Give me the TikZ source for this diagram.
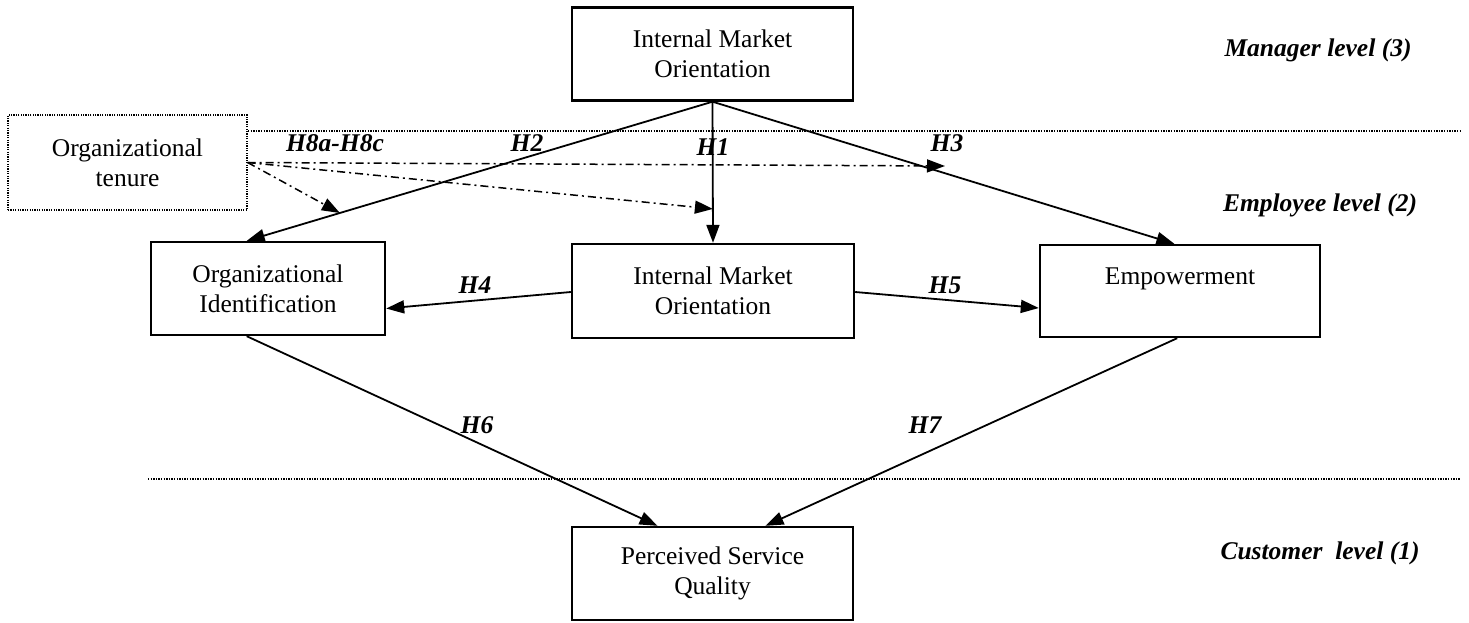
\documentclass[tikz,border=0pt]{standalone}
\usepackage{fontspec}
\setmainfont{Liberation Serif}
\usetikzlibrary{arrows.meta,calc}
\begin{document}
\begin{tikzpicture}[x=1pt,y=-1pt,
  box/.style={draw,line width=2.4pt,rectangle,align=center,inner sep=0pt,
    font=\fontsize{25.5}{30}\selectfont},
  tenbox/.style={draw,line width=1.2pt,dash pattern=on 1.2pt off 1.2pt,rectangle,align=center,inner sep=0pt,
    font=\fontsize{25.5}{30}\selectfont},
  hyp/.style={font=\fontsize{25.5}{30}\selectfont\bfseries\itshape,inner sep=0pt},
  conn/.style={line width=1.8pt,-{Triangle[length=18pt,width=13pt]}},
  modconn/.style={line width=1.5pt,dash pattern=on 8pt off 4pt on 2pt off 4pt,-{Triangle[length=18pt,width=13pt]}},
  sep/.style={line width=1.3pt,dash pattern=on 1.3pt off 1.3pt}
]
\useasboundingbox (0,0) rectangle (1469,622);

% nodes
\node[box,minimum width=281pt,minimum height=93pt] (top) at (712.5,54) {Internal Market\\Orientation};
\node[tenbox,minimum width=239pt,minimum height=95pt] (ten) at (127.5,162.5) {Organizational\\tenure};
\node[box,minimum width=234pt,minimum height=93pt] (oid) at (268,288.5) {Organizational\\Identification};
\node[box,minimum width=282pt,minimum height=94pt] (imo) at (713,291) {Internal Market\\Orientation};
\node[box,minimum width=280pt,minimum height=92pt] (emp) at (1180,291) {Empowerment\\\mbox{}};
\node[box,minimum width=281pt,minimum height=93pt] (psq) at (712.5,573.5) {Perceived Service\\Quality};

% level labels
\node[hyp] (lv3) at (1318,50) {Manager level (3)};
\node[hyp] (lv2) at (1320,205) {Employee level (2)};
\node[hyp] (lv1) at (1320,553) {Customer\ \ level (1)};

% level separators
\coordinate (s1a) at (248,131);
\coordinate (s1b) at (1460,131);
\coordinate (s2a) at (148,479);
\coordinate (s2b) at (1460,479);
\draw[sep] (s1a) -- (s1b);
\draw[sep] (s2a) -- (s2b);

% end points on boxes
\coordinate (oidN) at ($(oid.north west)!0.41!(oid.north east)$);
\coordinate (empN) at ($(emp.north west)!0.48!(emp.north east)$);
\coordinate (oidS) at ($(oid.south west)!0.41!(oid.south east)$);
\coordinate (empS) at ($(emp.south west)!0.49!(emp.south east)$);
\coordinate (psqA) at ($(psq.north west)!0.306!(psq.north east)$);
\coordinate (psqB) at ($(psq.north west)!0.687!(psq.north east)$);

% main hypotheses
\draw[conn] (top.south) -- (imo.north);
\draw[conn] (top.south) -- (oidN);
\draw[conn] (top.south) -- (empN);
\draw[conn] ($(imo.west)+(0,1)$) -- ($(oid.east)+(0,20)$);
\draw[conn] ($(imo.east)+(0,1)$) -- ($(emp.west)+(0,17)$);
\draw[conn] (oidS) -- (psqA);
\draw[conn] (empS) -- (psqB);

% moderation arrows
\coordinate (m2) at ($(top.south)!0.8!(oidN)$);
\coordinate (m1) at ($(top.south)!0.76!(imo.north)$);
\coordinate (m3) at (945,166);
\draw[modconn] (ten.east) -- (m2);
\draw[modconn] (ten.east) -- (m1);
\draw[modconn] (ten.east) -- (m3);

% hypothesis labels
\node[hyp] (h8) at (335,143) {H8a-H8c};
\node[hyp] (h2) at (527,143) {H2};
\node[hyp] (h1) at (713,147) {H1};
\node[hyp] (h3) at (947,143) {H3};
\node[hyp] (h4) at (475,285) {H4};
\node[hyp] (h5) at (945,285) {H5};
\node[hyp] (h6) at (477,425) {H6};
\node[hyp] (h7) at (925,425) {H7};
\end{tikzpicture}
\end{document}
